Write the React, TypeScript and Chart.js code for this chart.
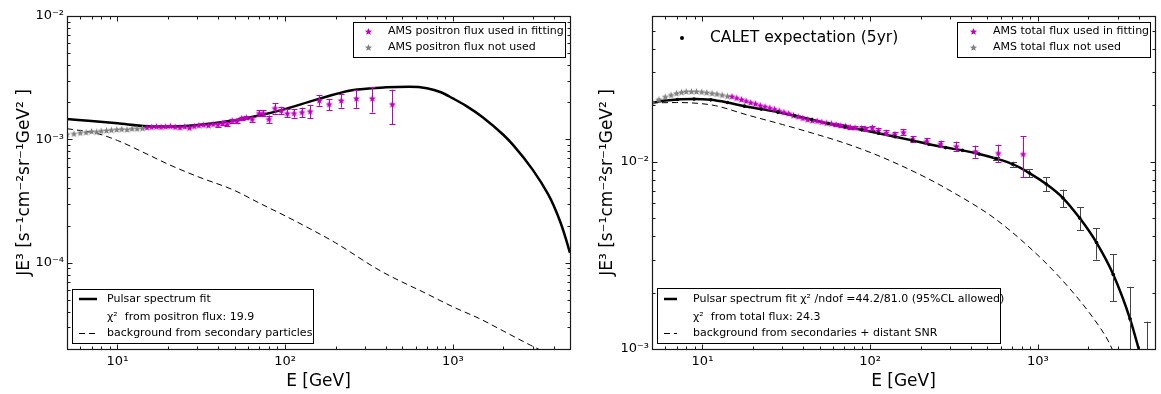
import React, { useEffect, useRef } from 'react';
import { Chart, registerables } from 'chart.js';

Chart.register(...registerables);

const FONT = "'DejaVu Sans', 'Liberation Sans', sans-serif";

// ---------------- Axis ticks ----------------
const energyTicks = [5, 6, 7, 8, 9, 10, 20, 30, 40, 50, 60, 70, 80, 90, 100, 200, 300, 400, 500, 600, 700, 800, 900, 1000, 2000, 3000, 4000, 5000];
const energyMajor = [10, 100, 1000];
const energyMajorLabels = ['10¹', '10²', '10³'];

const posFluxTicks = [2e-5, 3e-5, 4e-5, 5e-5, 6e-5, 7e-5, 8e-5, 9e-5, 1e-4, 2e-4, 3e-4, 4e-4, 5e-4, 6e-4, 7e-4, 8e-4, 9e-4, 1e-3, 2e-3, 3e-3, 4e-3, 5e-3, 6e-3, 7e-3, 8e-3, 9e-3, 1e-2];
const posFluxMajor = [1e-4, 1e-3, 1e-2];
const posFluxMajorLabels = ['10⁻⁴', '10⁻³', '10⁻²'];

const totFluxTicks = [1e-3, 2e-3, 3e-3, 4e-3, 5e-3, 6e-3, 7e-3, 8e-3, 9e-3, 1e-2, 2e-2, 3e-2, 4e-2, 5e-2, 6e-2];
const totFluxMajor = [1e-3, 1e-2];
const totFluxMajorLabels = ['10⁻³', '10⁻²'];

// ---------------- Left panel: positron flux ----------------
const posNotUsedE = [5.0, 5.5, 6.0, 6.5, 7.0, 7.5, 8.0, 8.6, 9.2, 9.9, 10.6, 11.4, 12.2, 13.1, 14.1];
const posNotUsedFlux = [1.10e-3, 1.11e-3, 1.13e-3, 1.14e-3, 1.16e-3, 1.15e-3, 1.17e-3, 1.18e-3, 1.19e-3, 1.20e-3, 1.21e-3, 1.20e-3, 1.22e-3, 1.22e-3, 1.23e-3];
const posNotUsedErr = [0.02e-3, 0.02e-3, 0.02e-3, 0.02e-3, 0.02e-3, 0.02e-3, 0.02e-3, 0.02e-3, 0.02e-3, 0.02e-3, 0.02e-3, 0.02e-3, 0.02e-3, 0.02e-3, 0.02e-3];

const posUsedE = [15.0, 16.0, 17.1, 18.2, 19.4, 20.7, 22.1, 23.6, 25.2, 26.9, 28.7, 30.6, 32.7, 34.9, 37.2, 39.7, 42.4, 45.2, 48.3, 51.5, 55.0, 58.7, 63.6, 70, 74, 80, 87, 95, 103, 113, 126, 141, 160, 183, 216, 266, 331, 436];
const posUsedFlux = [1.25e-3, 1.26e-3, 1.27e-3, 1.26e-3, 1.27e-3, 1.28e-3, 1.26e-3, 1.25e-3, 1.27e-3, 1.24e-3, 1.28e-3, 1.30e-3, 1.31e-3, 1.30e-3, 1.33e-3, 1.32e-3, 1.35e-3, 1.33e-3, 1.42e-3, 1.40e-3, 1.48e-3, 1.50e-3, 1.46e-3, 1.63e-3, 1.63e-3, 1.46e-3, 1.79e-3, 1.72e-3, 1.63e-3, 1.63e-3, 1.66e-3, 1.69e-3, 2.07e-3, 1.93e-3, 2.07e-3, 2.15e-3, 2.15e-3, 1.93e-3];
const posUsedErr = [0.03e-3, 0.03e-3, 0.03e-3, 0.03e-3, 0.03e-3, 0.03e-3, 0.03e-3, 0.03e-3, 0.03e-3, 0.03e-3, 0.03e-3, 0.03e-3, 0.03e-3, 0.03e-3, 0.03e-3, 0.05e-3, 0.05e-3, 0.05e-3, 0.05e-3, 0.05e-3, 0.05e-3, 0.05e-3, 0.07e-3, 0.09e-3, 0.09e-3, 0.10e-3, 0.17e-3, 0.12e-3, 0.12e-3, 0.13e-3, 0.15e-3, 0.20e-3, 0.20e-3, 0.20e-3, 0.26e-3, 0.35e-3, 0.50e-3, 0.60e-3];

const posFitE = [5, 7, 10, 15, 20, 30, 50, 70, 100, 150, 250, 400, 550, 700, 850, 1000, 1200, 1500, 2000, 2300, 3000, 3700, 4000, 4400, 4700, 5000];
const posFitFlux = [1.46e-3, 1.41e-3, 1.35e-3, 1.28e-3, 1.27e-3, 1.31e-3, 1.43e-3, 1.56e-3, 1.76e-3, 2.08e-3, 2.50e-3, 2.64e-3, 2.67e-3, 2.60e-3, 2.41e-3, 2.15e-3, 1.87e-3, 1.52e-3, 1.09e-3, 0.895e-3, 0.566e-3, 0.36e-3, 0.29e-3, 0.21e-3, 0.16e-3, 0.12e-3];

const posBgE = [5, 6, 7.5, 10, 15, 20, 30, 50, 70, 100, 150, 200, 370, 700, 1000, 1460, 2000, 2900, 3500];
const posBgFlux = [1.22e-3, 1.18e-3, 1.12e-3, 9.8e-4, 7.6e-4, 6.3e-4, 5.0e-4, 3.85e-4, 3.05e-4, 2.4e-4, 1.8e-4, 1.45e-4, 8.6e-5, 5.6e-5, 4.4e-5, 3.5e-5, 2.8e-5, 2.15e-5, 1.9e-5];

// ---------------- Right panel: total flux ----------------
const totNotUsedE = [5.0, 5.5, 6.0, 6.5, 7.0, 7.5, 8.0, 8.6, 9.2, 9.9, 10.6, 11.4, 12.2, 13.1, 14.1];
const totNotUsedFlux = [0.0208, 0.0215, 0.0222, 0.0227, 0.0232, 0.0235, 0.0237, 0.0237, 0.0237, 0.0236, 0.0234, 0.0232, 0.0230, 0.0227, 0.0224];
const totNotUsedErr = [0.0002, 0.0002, 0.0002, 0.0002, 0.0002, 0.0002, 0.0002, 0.0002, 0.0002, 0.0002, 0.0002, 0.0002, 0.0002, 0.0002, 0.0002];

const totUsedE = [15.0, 16.0, 17.1, 18.2, 19.4, 20.7, 22.1, 23.6, 25.2, 26.9, 28.7, 30.6, 32.7, 34.9, 37.2, 39.7, 42.4, 45.2, 48.3, 51.5, 55.0, 58.7, 62.6, 66.8, 71.3, 76.1, 81.2, 89, 94, 103, 112, 125, 140, 158, 179, 217, 263, 327, 425, 581, 818];
const totUsedFlux = [0.0223, 0.0219, 0.0215, 0.0211, 0.0207, 0.0204, 0.0200, 0.0197, 0.0194, 0.0191, 0.0187, 0.0184, 0.0181, 0.0177, 0.0174, 0.0171, 0.0168, 0.0166, 0.0165, 0.0163, 0.0161, 0.0160, 0.0158, 0.0156, 0.0155, 0.0153, 0.0152, 0.0151, 0.0150, 0.0152, 0.0147, 0.0143, 0.0140, 0.0144, 0.0132, 0.01286, 0.01245, 0.0121, 0.01135, 0.01113, 0.01099];
const totUsedErr = [0.0002, 0.0002, 0.0002, 0.0002, 0.0002, 0.0002, 0.0002, 0.0002, 0.0002, 0.0002, 0.0002, 0.0002, 0.0002, 0.0002, 0.0002, 0.0002, 0.0002, 0.0002, 0.0002, 0.0002, 0.0002, 0.0002, 0.0003, 0.0003, 0.0003, 0.0003, 0.0003, 0.00035, 0.00035, 0.0004, 0.0004, 0.0004, 0.00045, 0.0005, 0.0005, 0.0005, 0.0005, 0.0007, 0.00085, 0.0012, 0.0027];

const caletE = [7.08, 8.91, 11.2, 14.1, 17.8, 22.4, 28.2, 35.5, 44.7, 56.2, 70.8, 89.1, 112, 141, 178, 224, 282, 355, 447, 562, 708, 891, 1122, 1413, 1778, 2239, 2818, 3548, 4467];
const caletFlux = [0.0215, 0.0216, 0.0214, 0.0207, 0.0198, 0.0191, 0.0184, 0.0176, 0.0168, 0.0160, 0.0154, 0.0148, 0.0142, 0.0136, 0.0130, 0.0124, 0.0119, 0.0115, 0.0110, 0.0104, 0.0097, 0.0087, 0.0076, 0.0064, 0.0050, 0.0037, 0.0025, 0.00145, 0.00070];
const caletErr = [0.0001, 0.0001, 0.0001, 0.0001, 0.0001, 0.0001, 0.0001, 0.0001, 0.0001, 0.0001, 0.0001, 0.0001, 0.0001, 0.0001, 0.00012, 0.00012, 0.00012, 0.00012, 0.00015, 0.0002, 0.0003, 0.00045, 0.00064, 0.0007, 0.0007, 0.0007, 0.0007, 0.0007, 0.0007];

const totFitE = [5, 6, 7.08, 8.91, 11.2, 14.1, 17.8, 22.4, 28.2, 35.5, 44.7, 56.2, 70.8, 89.1, 112, 141, 178, 224, 282, 355, 447, 562, 708, 891, 1122, 1413, 1778, 2239, 2818, 3548, 4000, 4467];
const totFitFlux = [0.0207, 0.0212, 0.0215, 0.0216, 0.0214, 0.0207, 0.0198, 0.0191, 0.0184, 0.0176, 0.0168, 0.0160, 0.0154, 0.0148, 0.0142, 0.0136, 0.0130, 0.0124, 0.0119, 0.0115, 0.0110, 0.0104, 0.0097, 0.0087, 0.0076, 0.0064, 0.0050, 0.0037, 0.0025, 0.00145, 0.00100, 0.00070];

const totBgE = [5, 7, 9.4, 12, 18.4, 30, 45.4, 70, 103, 136, 217, 309, 533, 837, 1335, 2110, 2650, 3000];
const totBgFlux = [0.0206, 0.0207, 0.0205, 0.0199, 0.0178, 0.0158, 0.0142, 0.0126, 0.0111, 0.0100, 0.0082, 0.0069, 0.0051, 0.00367, 0.00244, 0.00149, 0.00109, 0.00085];

// ---------------- Text ----------------
const xTitle = 'E [GeV]';
const yTitle = 'JE³ [s⁻¹cm⁻²sr⁻¹GeV² ]';

const MAGENTA = '#bf00bf';
const GRAY = '#808080';

function zip(xs: number[], ys: number[]) {
  return xs.map((x, i) => ({ x, y: ys[i] }));
}

function makeStar(color: string, r: number) {
  const size = 9;
  const c = document.createElement('canvas');
  c.width = size;
  c.height = size;
  const ctx = c.getContext('2d')!;
  ctx.translate(size / 2, size / 2 + 0.3);
  ctx.beginPath();
  for (let i = 0; i < 10; i++) {
    const rad = i % 2 === 0 ? r : r * 0.45;
    const a = -Math.PI / 2 + (i * Math.PI) / 5;
    ctx.lineTo(rad * Math.cos(a), rad * Math.sin(a));
  }
  ctx.closePath();
  ctx.fillStyle = color;
  ctx.fill();
  return c;
}

function labelFor(v: number, majors: number[], labels: string[]) {
  for (let i = 0; i < majors.length; i++) {
    if (Math.abs(v - majors[i]) / majors[i] < 1e-6) return labels[i];
  }
  return '';
}

function isMajor(v: number) {
  const l = Math.log10(v);
  return Math.abs(l - Math.round(l)) < 1e-6;
}

const errorBarPlugin = {
  id: 'errorBars',
  beforeDatasetDraw(chart: any, args: any) {
    const ds = chart.data.datasets[args.index];
    if (!ds.errors) return;
    const { ctx, chartArea: a, scales } = chart;
    ctx.save();
    ctx.beginPath();
    ctx.rect(a.left, a.top, a.right - a.left, a.bottom - a.top);
    ctx.clip();
    ctx.strokeStyle = ds.errorColor || '#000';
    ctx.lineWidth = 1;
    ds.data.forEach((p: any, i: number) => {
      const e = ds.errors[i];
      if (!e) return;
      const x = Math.round(scales.x.getPixelForValue(p.x)) + 0.5;
      const yTop = scales.y.getPixelForValue(p.y + e);
      const lo = p.y - e;
      const yBot = lo > 0 ? scales.y.getPixelForValue(lo) : a.bottom + 20;
      ctx.beginPath();
      ctx.moveTo(x, yTop);
      ctx.lineTo(x, yBot);
      const cap = ds.capHalf || 3;
      if (yBot - yTop > 3) {
        ctx.moveTo(x - cap, Math.round(yTop) + 0.5);
        ctx.lineTo(x + cap, Math.round(yTop) + 0.5);
        ctx.moveTo(x - cap, Math.round(yBot) + 0.5);
        ctx.lineTo(x + cap, Math.round(yBot) + 0.5);
      }
      ctx.stroke();
    });
    ctx.restore();
  },
};

const framePlugin = {
  id: 'frameTicks',
  afterDatasetsDraw(chart: any) {
    const { ctx, chartArea: a, scales } = chart;
    const L = Math.round(a.left) + 0.5;
    const R = Math.round(a.right) + 0.5;
    const T = Math.round(a.top) + 0.5;
    const B = Math.round(a.bottom) + 0.5;
    ctx.save();
    ctx.strokeStyle = '#1a1a1a';
    ctx.lineWidth = 1.2;
    ctx.strokeRect(L, T, R - L, B - T);
    ctx.lineWidth = 1;
    ctx.beginPath();
    scales.x.ticks.forEach((t: any) => {
      const px = Math.round(scales.x.getPixelForValue(t.value)) + 0.5;
      if (px < L - 0.1 || px > R + 0.1) return;
      const len = isMajor(t.value) ? 5 : 3;
      ctx.moveTo(px, B);
      ctx.lineTo(px, B - len);
      ctx.moveTo(px, T);
      ctx.lineTo(px, T + len);
    });
    scales.y.ticks.forEach((t: any) => {
      const py = Math.round(scales.y.getPixelForValue(t.value)) + 0.5;
      if (py < T - 0.1 || py > B + 0.1) return;
      const len = isMajor(t.value) ? 5 : 3;
      ctx.moveTo(L, py);
      ctx.lineTo(L + len, py);
      ctx.moveTo(R, py);
      ctx.lineTo(R - len, py);
    });
    ctx.stroke();
    ctx.restore();
  },
};

type LegendRow = { kind: 'star' | 'line' | 'dash' | 'dot' | 'none'; img?: HTMLCanvasElement; text: string; y: number };
type LegendBox = {
  frame?: { x: number; y: number; w: number; h: number };
  sampleX0: number;
  sampleX1: number;
  textX: number;
  fontSize: number;
  rows: LegendRow[];
};

function makeLegendPlugin(boxes: LegendBox[]) {
  return {
    id: 'panelLegends',
    afterDraw(chart: any) {
      const ctx = chart.ctx as CanvasRenderingContext2D;
      ctx.save();
      for (const box of boxes) {
        if (box.frame) {
          const f = box.frame;
          ctx.fillStyle = '#fff';
          ctx.fillRect(f.x, f.y, f.w, f.h);
          ctx.strokeStyle = '#000';
          ctx.lineWidth = 1;
          ctx.setLineDash([]);
          ctx.strokeRect(f.x + 0.5, f.y + 0.5, f.w, f.h);
        }
        ctx.font = `${box.fontSize}px ${FONT}`;
        ctx.textBaseline = 'middle';
        ctx.textAlign = 'left';
        for (const row of box.rows) {
          const mid = (box.sampleX0 + box.sampleX1) / 2;
          ctx.strokeStyle = '#000';
          ctx.fillStyle = '#000';
          if (row.kind === 'star' && row.img) {
            ctx.drawImage(row.img, Math.round(mid - row.img.width / 2), Math.round(row.y - row.img.height / 2));
          } else if (row.kind === 'line') {
            ctx.setLineDash([]);
            ctx.lineWidth = 2.5;
            ctx.beginPath();
            ctx.moveTo(box.sampleX0, row.y);
            ctx.lineTo(box.sampleX1, row.y);
            ctx.stroke();
          } else if (row.kind === 'dash') {
            ctx.setLineDash([6, 4]);
            ctx.lineWidth = 1;
            ctx.beginPath();
            ctx.moveTo(box.sampleX0, row.y + 0.5);
            ctx.lineTo(box.sampleX1, row.y + 0.5);
            ctx.stroke();
            ctx.setLineDash([]);
          } else if (row.kind === 'dot') {
            ctx.beginPath();
            ctx.arc(mid, row.y, 2, 0, Math.PI * 2);
            ctx.fill();
          }
          ctx.fillStyle = '#000';
          ctx.fillText(row.text, box.textX, row.y);
        }
      }
      ctx.restore();
    },
  };
}

function makeConfig(opts: {
  datasets: any[];
  yMin: number;
  yMax: number;
  yTicks: number[];
  yMajor: number[];
  yMajorLabels: string[];
  yAxisWidth: number;
  yTitlePad: number;
  rightPad: number;
  legend: LegendBox[];
}): any {
  return {
    type: 'scatter',
    data: { datasets: opts.datasets },
    plugins: [errorBarPlugin, framePlugin, makeLegendPlugin(opts.legend)],
    options: {
      animation: false,
      responsive: false,
      devicePixelRatio: 1,
      layout: { padding: { left: 0, right: opts.rightPad, top: 16, bottom: 0 } },
      plugins: { legend: { display: false }, tooltip: { enabled: false } },
      scales: {
        x: {
          type: 'logarithmic',
          position: 'bottom',
          min: 5,
          max: 5000,
          bounds: 'data',
          afterBuildTicks: (s: any) => {
            s.ticks = energyTicks.map((v) => ({ value: v, major: isMajor(v) }));
          },
          afterFit: (s: any) => {
            s.height = 45;
          },
          grid: { display: false, drawTicks: false },
          border: { display: false },
          ticks: {
            autoSkip: false,
            maxRotation: 0,
            minRotation: 0,
            padding: 5,
            color: '#000',
            font: { size: 13, family: FONT },
            callback: (v: number) => labelFor(v, energyMajor, energyMajorLabels),
          },
          title: {
            display: true,
            text: xTitle,
            color: '#000',
            font: { size: 17, family: FONT },
            padding: { top: 0, bottom: 2 },
          },
        },
        y: {
          type: 'logarithmic',
          position: 'left',
          min: opts.yMin,
          max: opts.yMax,
          bounds: 'data',
          afterBuildTicks: (s: any) => {
            s.ticks = opts.yTicks.map((v) => ({ value: v, major: isMajor(v) }));
          },
          afterFit: (s: any) => {
            s.width = opts.yAxisWidth;
          },
          grid: { display: false, drawTicks: false },
          border: { display: false },
          ticks: {
            autoSkip: false,
            padding: 3,
            color: '#000',
            font: { size: 13, family: FONT },
            callback: (v: number) => labelFor(v, opts.yMajor, opts.yMajorLabels),
          },
          title: {
            display: true,
            text: yTitle,
            color: '#000',
            font: { size: 17, family: FONT },
            padding: { top: opts.yTitlePad, bottom: 0 },
          },
        },
      },
    },
  };
}

function lineDs(label: string, xs: number[], ys: number[], dashed: boolean) {
  return {
    label,
    data: zip(xs, ys),
    showLine: true,
    borderColor: '#000',
    borderWidth: dashed ? 1 : 2.5,
    borderDash: dashed ? [6, 4] : [],
    pointRadius: 0,
    cubicInterpolationMode: 'monotone',
    fill: false,
  };
}

function starDs(label: string, xs: number[], ys: number[], errs: number[], img: HTMLCanvasElement, color: string) {
  return {
    label,
    data: zip(xs, ys),
    showLine: false,
    pointStyle: img,
    pointRadius: 3,
    errors: errs,
    errorColor: color,
    capHalf: 3,
  };
}

export default function App() {
  const leftRef = useRef<HTMLCanvasElement>(null);
  const rightRef = useRef<HTMLCanvasElement>(null);

  useEffect(() => {
    Chart.defaults.font.family = FONT;
    const magentaStar = makeStar(MAGENTA, 3.8);
    const grayStar = makeStar(GRAY, 3.8);

    const leftDatasets = [
      starDs('AMS positron flux used in fitting', posUsedE, posUsedFlux, posUsedErr, magentaStar, MAGENTA),
      starDs('AMS positron flux not used', posNotUsedE, posNotUsedFlux, posNotUsedErr, grayStar, GRAY),
      lineDs('Pulsar spectrum fit', posFitE, posFitFlux, false),
      lineDs('background from secondary particles', posBgE, posBgFlux, true),
    ];

    const rightDatasets = [
      {
        label: 'CALET expectation (5yr)',
        data: zip(caletE, caletFlux),
        showLine: false,
        pointStyle: 'circle',
        pointRadius: 1.8,
        pointBackgroundColor: '#000',
        pointBorderWidth: 0,
        errors: caletErr,
        errorColor: '#444',
        capHalf: 3.5,
      },
      starDs('AMS total flux used in fitting', totUsedE, totUsedFlux, totUsedErr, magentaStar, MAGENTA),
      starDs('AMS total flux not used', totNotUsedE, totNotUsedFlux, totNotUsedErr, grayStar, GRAY),
      lineDs('Pulsar spectrum fit', totFitE, totFitFlux, false),
      lineDs('background from secondaries + distant SNR', totBgE, totBgFlux, true),
    ];

    const left = new Chart(
      leftRef.current!,
      makeConfig({
        datasets: leftDatasets,
        yMin: 2e-5,
        yMax: 1e-2,
        yTicks: posFluxTicks,
        yMajor: posFluxMajor,
        yMajorLabels: posFluxMajorLabels,
        yAxisWidth: 67,
        yTitlePad: 14,
        rightPad: 10,
        legend: [
          {
            frame: { x: 353, y: 22, w: 212, h: 35 },
            sampleX0: 364,
            sampleX1: 372,
            textX: 388,
            fontSize: 11,
            rows: [
              { kind: 'star', img: magentaStar, text: 'AMS positron flux used in fitting', y: 31 },
              { kind: 'star', img: grayStar, text: 'AMS positron flux not used', y: 47 },
            ],
          },
          {
            frame: { x: 72, y: 289, w: 241, h: 54 },
            sampleX0: 79,
            sampleX1: 97,
            textX: 107,
            fontSize: 11,
            rows: [
              { kind: 'line', text: 'Pulsar spectrum fit', y: 299 },
              { kind: 'none', text: 'χ²  from positron flux: 19.9', y: 317 },
              { kind: 'dash', text: 'background from secondary particles', y: 333 },
            ],
          },
        ],
      })
    );

    const right = new Chart(
      rightRef.current!,
      makeConfig({
        datasets: rightDatasets,
        yMin: 1e-3,
        yMax: 6e-2,
        yTicks: totFluxTicks,
        yMajor: totFluxMajor,
        yMajorLabels: totFluxMajorLabels,
        yAxisWidth: 72,
        yTitlePad: 17,
        rightPad: 6,
        legend: [
          {
            sampleX0: 98,
            sampleX1: 106,
            textX: 130,
            fontSize: 15.5,
            rows: [{ kind: 'dot', text: 'CALET expectation (5yr)', y: 38 }],
          },
          {
            frame: { x: 377, y: 22, w: 193, h: 35 },
            sampleX0: 389,
            sampleX1: 397,
            textX: 413,
            fontSize: 11,
            rows: [
              { kind: 'star', img: magentaStar, text: 'AMS total flux used in fitting', y: 31 },
              { kind: 'star', img: grayStar, text: 'AMS total flux not used', y: 47 },
            ],
          },
          {
            frame: { x: 77, y: 288, w: 343, h: 55 },
            sampleX0: 84,
            sampleX1: 97,
            textX: 113,
            fontSize: 11,
            rows: [
              { kind: 'line', text: 'Pulsar spectrum fit χ² /ndof =44.2/81.0 (95%CL allowed)', y: 299 },
              { kind: 'none', text: 'χ²  from total flux: 24.3', y: 317 },
              { kind: 'dash', text: 'background from secondaries + distant SNR', y: 333 },
            ],
          },
        ],
      })
    );

    return () => {
      left.destroy();
      right.destroy();
    };
  }, []);

  return (
    <div style={{ position: 'absolute', left: 0, top: 0, width: 1161, height: 394, background: '#fff' }}>
      <canvas
        ref={leftRef}
        width={580}
        height={394}
        style={{ position: 'absolute', left: 0, top: 0, width: 580, height: 394 }}
      />
      <canvas
        ref={rightRef}
        width={581}
        height={394}
        style={{ position: 'absolute', left: 580, top: 0, width: 581, height: 394 }}
      />
    </div>
  );
}
